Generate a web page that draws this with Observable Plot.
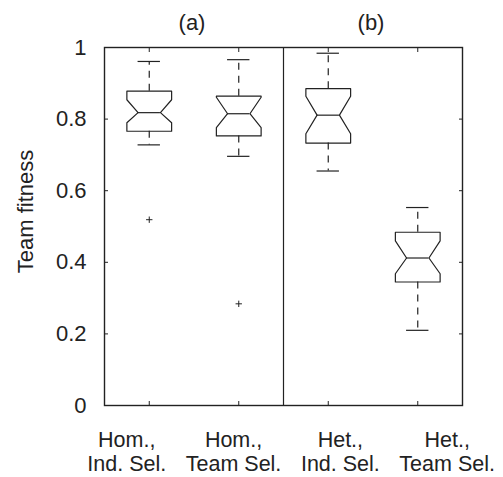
<!DOCTYPE html>
<html>
<head>
<meta charset="utf-8">
<script src="https://cdn.jsdelivr.net/npm/d3@7"></script>
<script src="https://cdn.jsdelivr.net/npm/@observablehq/plot@0.6"></script>
<style>
  html, body { margin: 0; padding: 0; background: #fff; }
  #chart svg { display: block; }
</style>
</head>
<body>
<div id="chart"></div>
<script>
// ---- data ----
const categories = ["Hom.,\nInd. Sel.", "Hom.,\nTeam Sel.", "Het.,\nInd. Sel.", "Het.,\nTeam Sel."];
const whiskerLow  = [0.728, 0.696, 0.655, 0.210];
const q1          = [0.766, 0.753, 0.733, 0.345];
const notchLow    = [0.790, 0.776, 0.759, 0.368];
const median      = [0.818, 0.815, 0.811, 0.412];
const notchHigh   = [0.854, 0.861, 0.864, 0.460];
const q3          = [0.878, 0.864, 0.885, 0.484];
const whiskerHigh = [0.961, 0.966, 0.984, 0.553];
const outlierGroup = [1, 2];
const outlierValue = [0.519, 0.284];
const panelTitles = ["(a)", "(b)"];
const panelCenters = [1.5, 3.5];
const panelDivider = [2.5];
const yTicks = [0, 0.2, 0.4, 0.6, 0.8, 1];
const yLabel = "Team fitness";

// ---- derived tables ----
const positions = categories.map((_, i) => i + 1);
const boxW = 0.25, notchW = 0.125, capW = 0.125;
const outline = [];
positions.forEach((c, i) => {
  const pts = [
    [c - boxW, q3[i]], [c + boxW, q3[i]], [c + boxW, notchHigh[i]], [c + notchW, median[i]],
    [c + boxW, notchLow[i]], [c + boxW, q1[i]], [c - boxW, q1[i]], [c - boxW, notchLow[i]],
    [c - notchW, median[i]], [c - boxW, notchHigh[i]], [c - boxW, q3[i]]
  ];
  pts.forEach(([x, y]) => outline.push({box: i, x, y}));
});
const stats = positions.map((c, i) => ({
  c, wl: whiskerLow[i], q1: q1[i], med: median[i], q3: q3[i], wh: whiskerHigh[i]
}));
const outliers = outlierGroup.map((g, i) => ({x: g, y: outlierValue[i]}));

const font = "'Liberation Sans', Arial, Helvetica, sans-serif";
const ink = "#222";
const fs = 22;
const labelFs = 21.5;

// category labels: spread slightly wider than the boxes, as in the reference
const labelMarks = categories.map((lab, i) => Plot.text([lab], {
  x: positions[i], frameAnchor: "bottom", lineAnchor: "top", textAnchor: "middle",
  dy: 24, dx: -22.5 + 17.3 * i, fontSize: labelFs, lineHeight: 1.12, fill: ink, text: d => d
}));

const chart = Plot.plot({
  width: 503,
  height: 477,
  marginLeft: 104,
  marginRight: 41,
  marginTop: 47,
  marginBottom: 72,
  style: {fontFamily: font, background: "#fff", color: ink},
  x: {domain: [0.5, 4.5], axis: null},
  y: {domain: [0, 1], axis: null},
  marks: [
    // inward ticks
    Plot.axisY({anchor: "left", ticks: yTicks, tickSize: -4, tickFormat: () => "", stroke: ink}),
    Plot.axisY({anchor: "right", ticks: yTicks, tickSize: -4, tickFormat: () => "", stroke: ink}),
    Plot.axisX({anchor: "bottom", ticks: positions, tickSize: -4, tickFormat: () => "", stroke: ink}),
    Plot.axisX({anchor: "top", ticks: positions, tickSize: -4, tickFormat: () => "", stroke: ink}),
    // y tick labels
    Plot.axisY({anchor: "left", ticks: yTicks, tickSize: 0, tickPadding: 18, fontSize: fs,
                tickFormat: d => String(d), label: null, fill: ink}),
    // panel divider
    Plot.ruleX(panelDivider, {stroke: ink, strokeWidth: 1.2}),
    // whiskers (dashed)
    Plot.ruleX(stats, {x: "c", y1: "q3", y2: "wh", stroke: ink, strokeWidth: 1.2, strokeDasharray: "7,6"}),
    Plot.ruleX(stats, {x: "c", y1: "q1", y2: "wl", stroke: ink, strokeWidth: 1.2, strokeDasharray: "7,6"}),
    // whisker caps
    Plot.ruleY(stats, {y: "wh", x1: d => d.c - capW, x2: d => d.c + capW, stroke: ink, strokeWidth: 1.2}),
    Plot.ruleY(stats, {y: "wl", x1: d => d.c - capW, x2: d => d.c + capW, stroke: ink, strokeWidth: 1.2}),
    // notched boxes
    Plot.line(outline, {x: "x", y: "y", z: "box", stroke: ink, strokeWidth: 1.2, fill: "none", curve: "linear"}),
    // medians
    Plot.ruleY(stats, {y: "med", x1: d => d.c - notchW, x2: d => d.c + notchW, stroke: ink, strokeWidth: 1.2}),
    // outliers
    Plot.dot(outliers, {x: "x", y: "y", symbol: "plus", r: 2.2, stroke: ink, strokeWidth: 1}),
    // frame
    Plot.frame({stroke: ink, strokeWidth: 1.4}),
    // panel titles
    Plot.text(panelTitles, {x: (d, i) => panelCenters[i], text: d => d, frameAnchor: "top",
      lineAnchor: "bottom", textAnchor: "middle", dy: -18, dx: -2, fontSize: fs, fill: ink}),
    // y label
    Plot.text([yLabel], {frameAnchor: "left", rotate: -90, textAnchor: "middle", dx: -79, dy: -15,
      fontSize: fs, text: d => d, fill: ink}),
    ...labelMarks
  ]
});
document.getElementById("chart").appendChild(chart);
</script>
</body>
</html>
